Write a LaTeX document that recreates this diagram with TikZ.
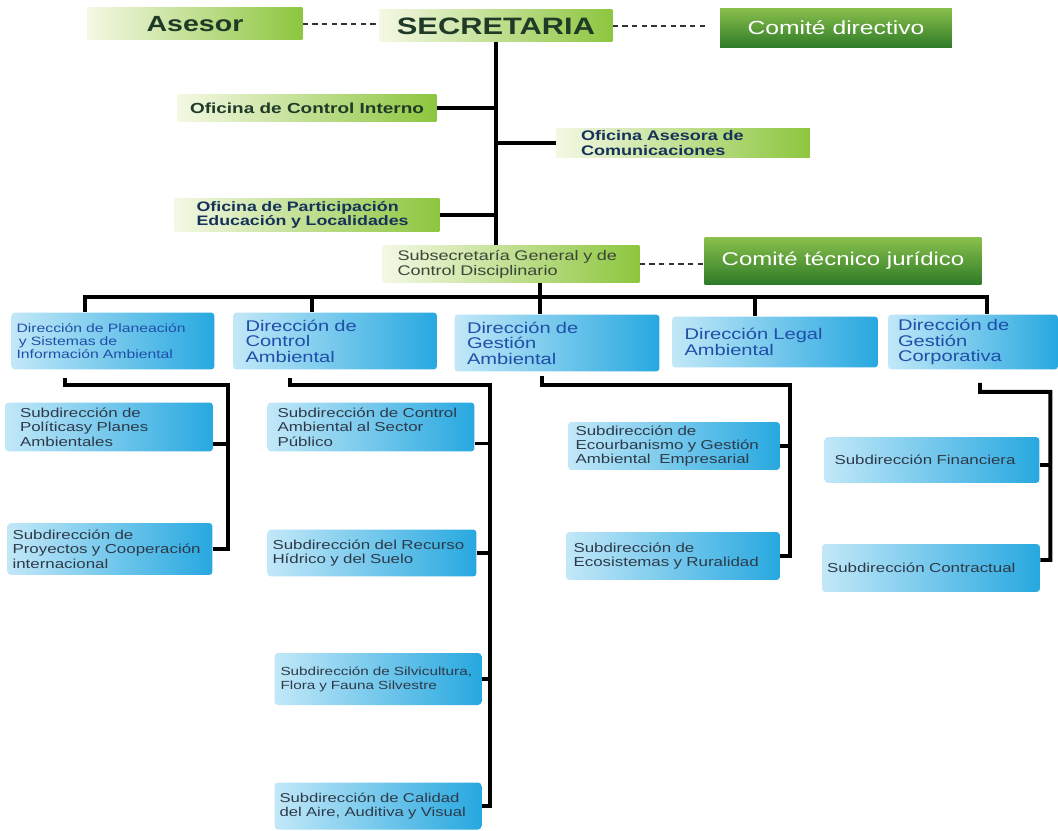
\documentclass[tikz,border=0pt]{standalone}
\usepackage{fontspec}
\setmainfont{Liberation Sans}[FakeStretch=1.3]
\usetikzlibrary{positioning,calc}

\definecolor{glight}{HTML}{F4F8E4}
\definecolor{gdark}{HTML}{8DC63F}
\definecolor{ctop}{HTML}{8AC04C}
\definecolor{cbot}{HTML}{2D7A27}
\definecolor{blight}{HTML}{C2E8F8}
\definecolor{bdark}{HTML}{27A8E0}
\definecolor{gtext}{HTML}{1F3B28}
\definecolor{navytext}{HTML}{16325A}
\definecolor{subgreen}{HTML}{3A4638}
\definecolor{dirtext}{HTML}{1F4FA8}
\definecolor{subtext}{HTML}{2E3A4A}

\begin{document}
\begin{tikzpicture}[
  x=0.02cm, y=-0.02cm,
  gbox/.style={rectangle, left color=glight, right color=gdark, inner xsep=0.25cm, inner ysep=1pt, align=left},
  cbox/.style={rectangle, top color=ctop, bottom color=cbot, text=white, align=center},
  dbox/.style={rectangle, rounded corners=2pt, left color=blight, right color=bdark, inner xsep=0.25cm, inner ysep=1pt, align=left, text=dirtext, font=\fontsize{8.8}{8.8}\selectfont},
  sbox/.style={dbox, inner xsep=0.1cm, text=subtext, font=\fontsize{7.4}{8.2}\selectfont},
  tree/.style={line width=2.2pt, black},
  dots/.style={line width=1.2pt, black!80, dash pattern=on 3pt off 2.5pt},
]

\useasboundingbox (0,0) rectangle (1058,831);

% === Top level ===
\node[gbox, align=center, minimum width=4.3cm, minimum height=0.64cm, text=gtext, font=\bfseries\fontsize{12.5}{13}\selectfont] (asesor) at (195,24) {Asesor};
\node[gbox, align=center, minimum width=4.66cm, minimum height=0.64cm, text=gtext, font=\bfseries\fontsize{13.5}{14}\selectfont] (secre) at (496,26) {SECRETARIA};
\node[cbox, minimum width=4.64cm, minimum height=0.8cm, font=\fontsize{10.8}{11}\selectfont] (cdir) at (836,28) {Comité directivo};

\draw[dots] (asesor.east) -- (asesor.east -| secre.west);
\draw[dots, shorten >=0.3cm] (secre.east) -- (secre.east -| cdir.west);

% === Oficinas ===
\node[gbox, align=center, minimum width=5.1cm, minimum height=0.54cm, text=gtext, font=\bfseries\fontsize{8.3}{9}\selectfont] (oci) at (307,108) {Oficina de Control Interno};
\node[gbox, text width=4.08cm, inner xsep=0.5cm, minimum height=0.6cm, text=navytext, font=\bfseries\fontsize{7.9}{8.2}\selectfont] (oac) at (683,143) {Oficina Asesora de\\Comunicaciones};
\node[gbox, text width=4.42cm, inner xsep=0.44cm, minimum height=0.68cm, text=navytext, font=\bfseries\fontsize{7.8}{8.2}\selectfont] (ope) at (307,215) {Oficina de Participación\\Educación y Localidades};
\node[gbox, text width=4.54cm, inner xsep=0.3cm, minimum height=0.74cm, text=subgreen, font=\fontsize{7.9}{8.4}\selectfont] (subsec) at (511,264) {Subsecretaría General y de\\Control Disciplinario};
\node[cbox, minimum width=5.54cm, minimum height=0.94cm, font=\fontsize{10.5}{11}\selectfont] (ctj) at (843,261) {Comité técnico jurídico};

\draw[tree] (secre.south) -- (secre.south |- subsec.north);
\draw[tree] (oci.east) -- (oci.east -| secre.south);
\draw[tree] (oac.west) -- (oac.west -| secre.south);
\draw[tree] (ope.east) -- (ope.east -| secre.south);
\draw[dots] (subsec.east) -- (subsec.east -| ctj.west);

% === Direcciones ===
\node[dbox, text width=3.86cm, inner xsep=0.1cm, minimum height=1.14cm, font=\fontsize{6.9}{7.6}\selectfont] (dpl) at (113,341) {Dirección de Planeación\\\hspace*{0.2em}y Sistemas de\\Información Ambiental};
\node[dbox, text width=3.58cm, minimum height=1.14cm] (dca) at (335,341) {Dirección de\\Control\\Ambiental};
\node[dbox, text width=3.6cm, minimum height=1.14cm] (dga) at (557,343) {Dirección de\\Gestión\\Ambiental};
\node[dbox, text width=3.62cm, minimum height=1.02cm] (dla) at (775,342) {Dirección Legal\\Ambiental};
\node[dbox, text width=3.0cm, inner xsep=0.2cm, minimum height=1.1cm] (dgc) at (973,342) {Dirección de\\Gestión\\Corporativa};

\coordinate (bus) at (0,297);
\coordinate (tsub) at ([xshift=0.58cm]subsec.south);
\coordinate (tpl) at ([xshift=-0.56cm]dpl.north);
\coordinate (tca) at ([xshift=-0.46cm]dca.north);
\coordinate (tga) at ([xshift=-0.34cm]dga.north);
\coordinate (tla) at ([xshift=-0.4cm]dla.north);
\coordinate (tgc) at ([xshift=0.28cm]dgc.north);

\draw[tree] (tsub) -- (tsub |- bus);
\draw[tree] (tpl) |- (bus -| tgc) -- (tgc);
\foreach \t in {tca,tga,tla}
  \draw[tree] (\t) -- (\t |- bus);

% === Subdirecciones ===
\node[sbox, text width=3.56cm, inner xsep=0.3cm, minimum height=0.98cm] (spp) at (109,427) {Subdirección de\\Políticasy Planes\\Ambientales};
\node[sbox, text width=3.9cm, minimum height=1.04cm] (spc) at (110,549) {Subdirección de\\Proyectos y Cooperación\\internacional};

\node[sbox, text width=3.74cm, inner xsep=0.2cm, minimum height=0.98cm] (scs) at (371,427) {Subdirección de Control\\Ambiental al Sector\\Público};
\node[sbox, text width=3.98cm, minimum height=0.94cm] (srh) at (372,553) {Subdirección del Recurso\\Hídrico y del Suelo};
\node[sbox, text width=3.9cm, inner xsep=0.12cm, minimum height=1.04cm, font=\fontsize{6.7}{8}\selectfont] (ssf) at (378,679) {Subdirección de Silvicultura,\\Flora y Fauna Silvestre};
\node[sbox, text width=3.94cm, minimum height=0.94cm, font=\fontsize{7.3}{8.2}\selectfont] (sca) at (378,806) {Subdirección de Calidad\\del Aire, Auditiva y Visual};

\node[sbox, text width=3.94cm, inner xsep=0.15cm, minimum height=0.96cm] (sea) at (674,446) {Subdirección de\\Ecourbanismo y Gestión\\Ambiental\ \ Empresarial};
\node[sbox, text width=3.98cm, inner xsep=0.15cm, minimum height=0.96cm] (ser) at (673,556) {Subdirección de\\Ecosistemas y Ruralidad};

\node[sbox, text width=3.9cm, inner xsep=0.2cm, minimum height=0.92cm] (sfi) at (932,460) {Subdirección Financiera};
\node[sbox, text width=4.16cm, minimum height=0.96cm] (sco) at (931,568) {Subdirección Contractual};

% === Brackets ===
\coordinate (kpl) at ($(dpl.south)+(-48,8)$);
\coordinate (xpl) at ($(spc.east)+(15,0)$);
\draw[tree] (kpl) -- ++(0,7) -| (xpl) -- (spc.east);
\draw[tree] ([yshift=-0.34cm]spp.east) -- ++(15,0);

\coordinate (kca) at ($(dca.south)+(-45,8)$);
\coordinate (xca) at ($(sca.east)+(8,0)$);
\draw[tree] (kca) -- ++(0,7) -| (xca) -- (sca.east);
\draw[tree] ([yshift=-0.33cm]scs.east) -- ++(15,0);
\draw[tree] (srh.east) -- ++(13,0);
\draw[tree] (ssf.east) -- ++(8,0);

\coordinate (kga) at ($(dga.south)+(-15,4)$);
\coordinate (xga) at ($(ser.east)+(10,0)$);
\draw[tree] (kga) -- ++(0,9) -| (xga) -- (ser.east);
\draw[tree] (sea.east) -- ++(10,0);

\coordinate (kgc) at ($(dgc.south)+(7,13)$);
\coordinate (xgc) at ($(sco.east)+(10,-8)$);
\draw[tree] (kgc) -- ++(0,9) -| (xgc) -- ([yshift=0.16cm]sco.east);
\draw[tree] ([yshift=-0.1cm]sfi.east) -- ++(10,0);

\end{tikzpicture}
\end{document}
